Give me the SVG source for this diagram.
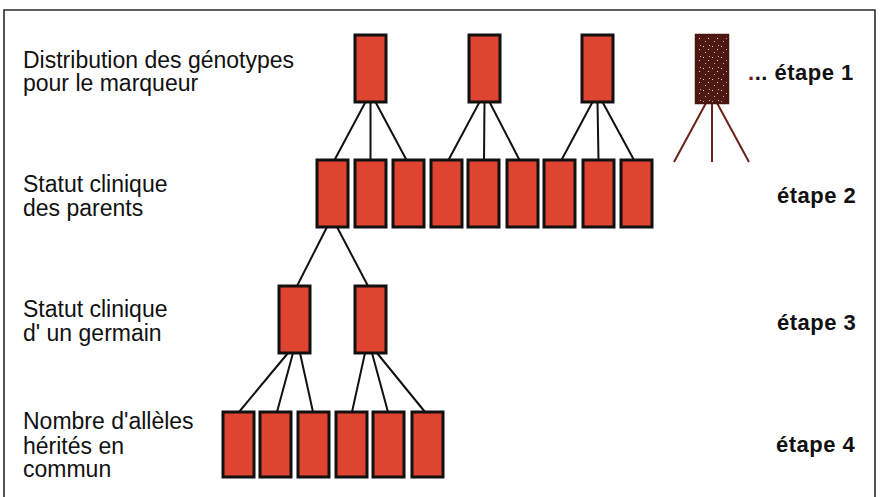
<svg xmlns="http://www.w3.org/2000/svg" width="883" height="497" viewBox="0 0 883 497">
  <style>
    .frame { stroke: #2a2a2a; stroke-width: 1.6; fill: none; }
    .box { fill: #df4430; stroke: #111; stroke-width: 3; }
    .marker-box { fill: url(#speckle); stroke: #4a1610; stroke-width: 2.5; }
    .link { stroke: #111; stroke-width: 2; fill: none; }
    .link-brown { stroke: #6a2219; stroke-width: 2; fill: none; }
    .lbl { font-family: "Liberation Sans", Arial, Helvetica, sans-serif; font-size: 23px; fill: #111; }
    .step { font-family: "Liberation Sans", Arial, Helvetica, sans-serif; font-size: 22px; font-weight: bold; fill: #111; letter-spacing: 0.5px; }
  </style>
  <defs>
    <pattern id="speckle" width="9" height="11" patternUnits="userSpaceOnUse">
      <rect width="9" height="11" fill="#4d1a13"/>
      <rect x="1" y="2" width="1" height="1" fill="#e8d8d0"/>
      <rect x="6" y="5" width="1" height="1" fill="#e8d8d0"/>
      <rect x="3" y="8" width="1" height="1" fill="#cbb6ab"/>
      <rect x="7" y="1" width="1" height="1" fill="#cbb6ab"/>
    </pattern>
  </defs>

  <rect width="883" height="497" fill="#ffffff"/>
  <!-- open frame (left, top, right) -->
  <path class="frame" d="M4,497 V10 H875 V497"/>

  <!-- connectors -->
  <g id="connectors">
    <!-- level 1 to level 2 -->
    <path class="link" d="M365.5,102 L334.5,160 M370.5,102 L370.5,160 M375.5,102 L406.5,160"/>
    <path class="link" d="M479.5,102 L448.5,160 M484.5,102 L484,160 M489.5,102 L519.5,160"/>
    <path class="link" d="M592.5,102 L561.5,160 M597.5,102 L598.5,160 M602.5,102 L634,160"/>
    <!-- marker stub -->
    <path class="link-brown" d="M706,103 L674,162 M712,103 L712,162 M717,103 L749,162"/>
    <!-- level 2 to level 3 -->
    <path class="link" d="M327,227 L297,286 M337,227 L368,286"/>
    <!-- level 3 to level 4 -->
    <path class="link" d="M288,353 L239,412 M293,353 L277,412 M300,353 L313,412"/>
    <path class="link" d="M365,353 L352,412 M372,353 L388,412 M377,353 L425,412"/>
  </g>

  <!-- level 1: marker genotypes -->
  <g id="g1a"><rect class="box" x="355" y="35" width="31" height="67"/></g>
  <g id="g1b"><rect class="box" x="469" y="35" width="31" height="67"/></g>
  <g id="g1c"><rect class="box" x="582" y="35" width="31" height="67"/></g>
  <g id="g1d"><rect class="marker-box" x="696" y="35" width="32" height="68"/></g>

  <!-- level 2: parents' clinical status -->
  <g id="p1"><rect class="box" x="317" y="160" width="31" height="67"/></g>
  <g id="p2"><rect class="box" x="355" y="160" width="31" height="67"/></g>
  <g id="p3"><rect class="box" x="393" y="160" width="31" height="67"/></g>
  <g id="p4"><rect class="box" x="431" y="160" width="31" height="67"/></g>
  <g id="p5"><rect class="box" x="468" y="160" width="31" height="67"/></g>
  <g id="p6"><rect class="box" x="507" y="160" width="31" height="67"/></g>
  <g id="p7"><rect class="box" x="544" y="160" width="31" height="67"/></g>
  <g id="p8"><rect class="box" x="583" y="160" width="31" height="67"/></g>
  <g id="p9"><rect class="box" x="621" y="160" width="31" height="67"/></g>

  <!-- level 3: sibling's clinical status -->
  <g id="s1"><rect class="box" x="279" y="286" width="31" height="67"/></g>
  <g id="s2"><rect class="box" x="355" y="286" width="31" height="67"/></g>

  <!-- level 4: alleles shared -->
  <g id="a1"><rect class="box" x="223" y="412" width="31" height="65"/></g>
  <g id="a2"><rect class="box" x="260" y="412" width="31" height="65"/></g>
  <g id="a3"><rect class="box" x="298" y="412" width="31" height="65"/></g>
  <g id="a4"><rect class="box" x="336" y="412" width="31" height="65"/></g>
  <g id="a5"><rect class="box" x="373" y="412" width="31" height="65"/></g>
  <g id="a6"><rect class="box" x="412" y="412" width="31" height="65"/></g>

  <!-- row labels -->
  <g id="labels">
    <text class="lbl" x="23" y="67.5">Distribution des génotypes</text>
    <text class="lbl" x="23" y="91">pour le marqueur</text>
    <text class="lbl" x="23" y="191.5">Statut clinique</text>
    <text class="lbl" x="23" y="215.5">des parents</text>
    <text class="lbl" x="23" y="317">Statut clinique</text>
    <text class="lbl" x="23" y="341">d' un germain</text>
    <text class="lbl" x="23" y="429">Nombre d'allèles</text>
    <text class="lbl" x="23" y="453.5">hérités en</text>
    <text class="lbl" x="23" y="477">commun</text>
  </g>

  <!-- step labels -->
  <g id="steps">
    <text class="step" x="748" y="80"><tspan fill="#6a2219">.</tspan>.. étape 1</text>
    <text class="step" x="777" y="203">étape 2</text>
    <text class="step" x="777" y="330">étape 3</text>
    <text class="step" x="776" y="452">étape 4</text>
  </g>
</svg>
